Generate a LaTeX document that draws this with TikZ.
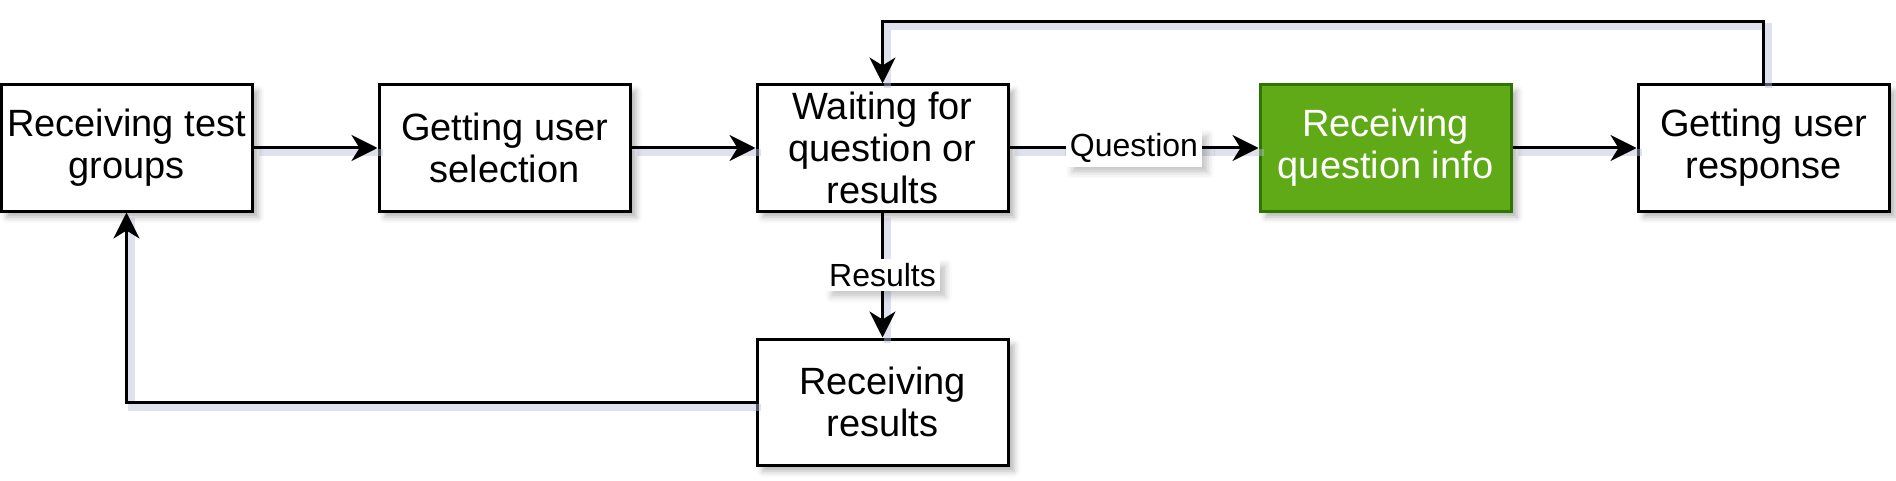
\documentclass[tikz,border=0pt]{standalone}
\usepackage{fontspec}
\setmainfont{Liberation Sans}
\usepackage{tikz}
\usetikzlibrary{positioning}
\usetikzlibrary{arrows.meta,shadows.blur}

\definecolor{stategreen}{HTML}{60A917}
\definecolor{stateborder}{HTML}{2D7600}
\definecolor{shade}{HTML}{B8BCD8}

\begin{document}
\begin{tikzpicture}[
    node distance=62.5pt and 62pt,
    state/.style={draw,line width=1.5pt,fill=white,minimum width=125.5pt,minimum height=63pt,
      inner sep=1pt,align=center,font=\fontsize{19}{21}\selectfont,
      blur shadow={shadow xshift=3pt,shadow yshift=-3pt,shadow blur radius=3pt,shadow opacity=30}},
    active/.style={state,fill=stategreen,draw=stateborder,text=white},
    lbl/.style={fill=white,inner sep=2pt,font=\fontsize{16}{18}\selectfont,
      blur shadow={shadow xshift=3pt,shadow yshift=-3pt,shadow blur radius=3pt,shadow opacity=22}},
    arr/.style={line width=1.5pt,-{Stealth[length=13pt,width=13pt,inset=4pt]},
      preaction={draw=shade,line width=3.5pt,-,draw opacity=0.45,
        transform canvas={shift={(2.5pt,-2.5pt)}}}}
    ]

    \useasboundingbox (0,0) rectangle (948pt,-240.5pt);

    \node[state] (groups) at (63.25pt,-74pt) {Receiving test\\groups};
    \node[state, right=of groups] (select) {Getting user\\selection};
    \node[state, right=of select] (waiting) {Waiting for\\question or\\results};
    \node[active, right=124.5pt of waiting] (qinfo) {Receiving\\question info};
    \node[state, right=of qinfo] (response) {Getting user\\response};

    \node[state, below=of waiting] (results) {Receiving\\results};

    \path (groups) edge[arr] (select)
    (select) edge[arr] (waiting)
    (waiting) edge[arr] node[lbl] {Question} (qinfo)
    (qinfo) edge[arr] (response)

    (waiting) edge[arr] node[lbl] {Results} (results)
    (results) edge[arr, to path={-| (\tikztotarget)}] (groups)
    ;

    \draw[arr] (response.north) |- ([yshift=31pt]waiting.north) -- (waiting.north);

  \end{tikzpicture}
\end{document}
